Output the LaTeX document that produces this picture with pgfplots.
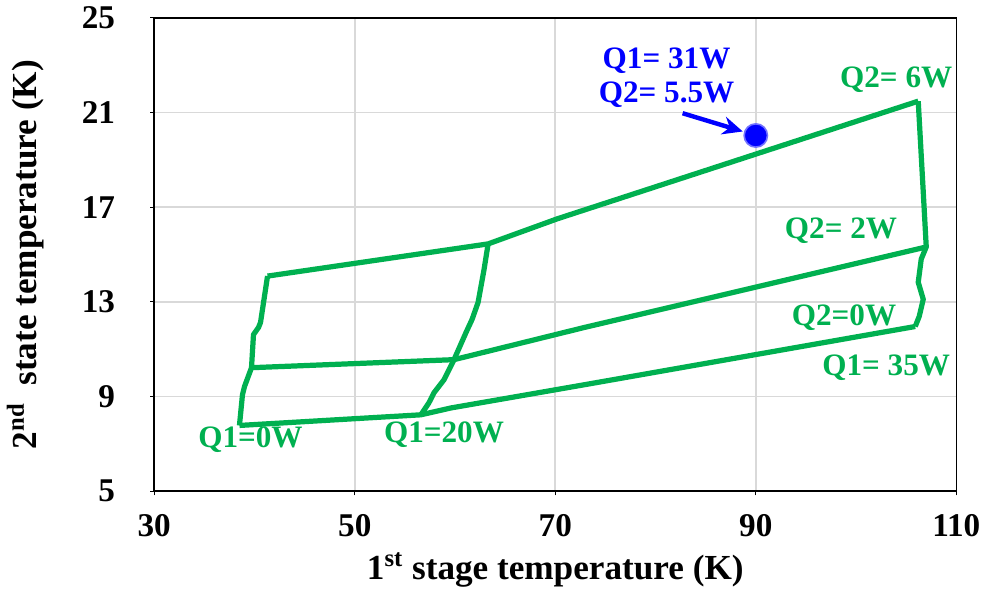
\documentclass[border=0pt]{standalone}
\usepackage{fontspec}
\setmainfont{Liberation Serif}
\usepackage{pgfplots}
\pgfplotsset{compat=1.18}
\usetikzlibrary{arrows.meta}
\definecolor{exgreen}{RGB}{0,176,80}
\definecolor{exblue}{RGB}{0,0,255}
\definecolor{gridgray}{RGB}{217,217,217}
\begin{document}
\begin{tikzpicture}
\begin{axis}[
    scale only axis,
    width=399pt, height=235.5pt,
    xmin=30, xmax=110, ymin=5, ymax=25,
    xtick={30,50,70,90,110},
    ytick={5,9,13,17,21,25},
    xtick pos=bottom, ytick pos=left,
    grid=major,
    major grid style={gridgray, line width=0.8pt},
    axis line style={black, line width=0.8pt},
    tick align=outside,
    major tick length=2pt,
    tick style={black, line width=0.6pt},
    ticklabel style={font=\fontsize{16.5}{16}\selectfont\bfseries},
    /pgf/number format/assume math mode=true,
    xticklabel style={yshift=-6pt},
    yticklabel style={xshift=-14pt},
    xlabel={1\textsuperscript{st} stage temperature (K)},
    ylabel={2\textsuperscript{nd}\ \ state temperature (K)},
    label style={font=\fontsize{17.5}{17}\selectfont\bfseries},
    xlabel style={yshift=-1pt},
    ylabel style={yshift=12pt},
    curve/.style={exgreen, line width=2.6pt, no marks, line join=round},
    clip=false,
]
% Q1 = 0 W
\addplot[curve] coordinates {(41.3,14.09) (40.6,12.13) (40.4,11.92) (39.9,11.62) (39.7,10.22) (39.0,9.42) (38.8,9.08) (38.5,7.78)};
% Q1 = 20 W
\addplot[curve] coordinates {(63.3,15.45) (62.9,14.38) (62.3,12.98) (61.7,12.26) (61.1,11.71) (59.9,10.56) (58.9,9.71) (57.9,9.16) (57.4,8.74) (56.6,8.23)};
% Q1 = 35 W
\addplot[curve] coordinates {(106.2,21.48) (106.7,17.65) (107.0,15.32) (106.5,14.81) (106.2,13.83) (106.7,13.11) (106.3,12.39) (105.9,11.96)};
% Q2 = 0 W
\addplot[curve] coordinates {(38.5,7.78) (56.6,8.23) (59.6,8.52) (72.9,9.50) (105.9,11.96)};
% Q2 = 2 W
\addplot[curve] coordinates {(39.7,10.22) (59.9,10.56) (72.9,11.92) (107.0,15.32)};
% Q2 = 6 W
\addplot[curve] coordinates {(41.3,14.09) (63.3,15.45) (70.2,16.51) (106.2,21.48)};
% operating point
\addplot[only marks, mark=*, mark size=5.8pt, draw=exblue!55, line width=0.8pt, fill=exblue] coordinates {(90,20.03)};
\draw[exblue, line width=2.2pt, -{Stealth[length=10pt,width=9pt]}] (axis cs:82.7,20.97) -- (axis cs:88.7,20.2);
\begin{scope}[every node/.style={font=\fontsize{15.5}{16}\selectfont\bfseries}]
\node[exblue] at (axis cs:81.1,23.2) {Q1= 31W};
\node[exblue] at (axis cs:81.1,21.75) {Q2= 5.5W};
\node[exgreen] at (axis cs:104.0,22.37) {Q2= 6W};
\node[exgreen] at (axis cs:98.5,16.0) {Q2= 2W};
\node[exgreen] at (axis cs:98.8,12.35) {Q2=0W};
\node[exgreen] at (axis cs:103.0,10.22) {Q1= 35W};
\node[exgreen] at (axis cs:39.6,7.17) {Q1=0W};
\node[exgreen] at (axis cs:58.9,7.38) {Q1=20W};
\end{scope}
\end{axis}
\end{tikzpicture}
\end{document}
